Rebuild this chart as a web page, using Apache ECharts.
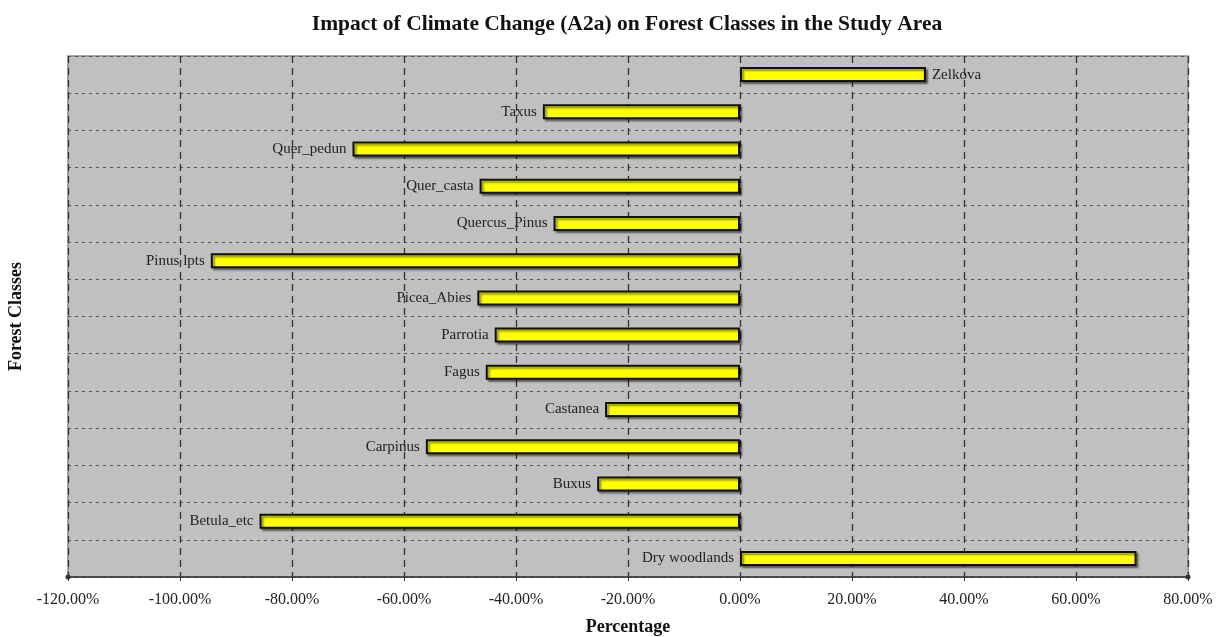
<!DOCTYPE html>
<html>
<head>
<meta charset="utf-8">
<script src="https://cdn.jsdelivr.net/npm/echarts@6/dist/echarts.min.js"></script>
<style>
  html, body { margin: 0; padding: 0; background: #ffffff; }
  #chart { width: 1225px; height: 637px; }
</style>
</head>
<body>
<div id="chart"></div>
<script>
// Forest classes, listed top to bottom
const forestClasses = [
  'Zelkova', 'Taxus', 'Quer_pedun', 'Quer_casta', 'Quercus_Pinus', 'Pinus lpts',
  'Picea_Abies', 'Parrotia', 'Fagus', 'Castanea', 'Carpinus', 'Buxus',
  'Betula_etc', 'Dry woodlands'
];

// Change in area under scenario A2a, in percent
const changePercent = [
  33.2, -35.2, -69.2, -46.5, -33.3, -94.5,
  -46.9, -43.8, -45.4, -24.1, -56.1, -25.5,
  -85.8, 70.8
];

// Percentage axis ticks
const axisMin = -120;
const axisMax = 80;
const axisStep = 20;

const serif = '"Liberation Serif", "Times New Roman", serif';

const chart = echarts.init(document.getElementById('chart'), null, { renderer: 'canvas' });

chart.setOption({
  backgroundColor: '#ffffff',
  animation: false,
  title: {
    text: 'Impact of Climate Change (A2a) on Forest Classes in the Study Area',
    left: 622,
    textAlign: 'center',
    top: 8,
    textStyle: { fontFamily: serif, fontWeight: 'bold', fontSize: 21.5, color: '#111' }
  },
  grid: {
    left: 68, right: 37, top: 56, bottom: 60,
    outerBoundsMode: 'none',
    containLabel: false,
    show: true,
    backgroundColor: '#c0c0c0',
    borderColor: '#8a8a8a',
    borderWidth: 1.5
  },
  xAxis: {
    type: 'value',
    min: axisMin,
    max: axisMax,
    interval: axisStep,
    name: 'Percentage',
    nameLocation: 'middle',
    nameGap: 41,
    nameTextStyle: { fontFamily: serif, fontWeight: 'bold', fontSize: 18, color: '#111' },
    axisLine: {
      show: true,
      onZero: false,
      lineStyle: { color: '#333', width: 1.5 },
      symbol: ['circle', 'circle'],
      symbolSize: [5, 5]
    },
    axisTick: { show: true, length: 4, lineStyle: { color: '#333' } },
    axisLabel: {
      margin: 15,
      fontFamily: serif,
      fontSize: 16,
      color: '#222',
      formatter: v => v.toFixed(2) + '%'
    },
    splitLine: {
      show: true,
      lineStyle: { color: '#333', type: [7, 5], width: 1.3 }
    }
  },
  yAxis: {
    type: 'category',
    data: forestClasses,
    inverse: true,
    name: 'Forest Classes',
    nameLocation: 'middle',
    nameGap: 43,
    nameRotate: 90,
    nameTextStyle: { fontFamily: serif, fontWeight: 'bold', fontSize: 18, color: '#111' },
    axisLine: { show: false },
    axisTick: { show: false },
    axisLabel: { show: false },
    splitLine: {
      show: true,
      lineStyle: { color: '#555', type: [3, 4], width: 1.2 }
    }
  },
  series: [{
    type: 'bar',
    data: changePercent.map((v, i) => ({
      value: v,
      label: { position: forestClasses[i] === 'Zelkova' ? 'right' : 'left' }
    })),
    barWidth: 15,
    itemStyle: {
      color: '#ffff00',
      borderColor: '#111',
      borderWidth: 2,
      shadowColor: 'rgba(0,0,0,0.45)',
      shadowBlur: 2,
      shadowOffsetX: 2,
      shadowOffsetY: 2
    },
    label: {
      show: true,
      distance: 6,
      fontFamily: serif,
      fontSize: 15,
      color: '#222',
      formatter: p => forestClasses[p.dataIndex]
    }
  }]
});
</script>
</body>
</html>
